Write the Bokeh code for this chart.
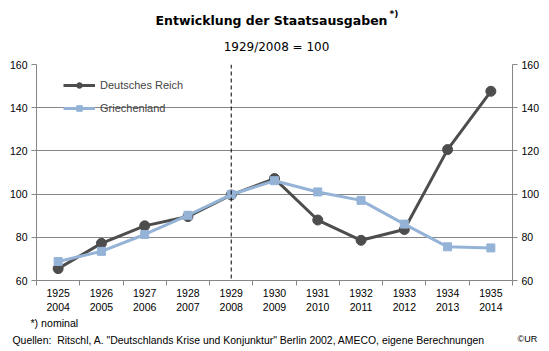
from bokeh.plotting import figure
from bokeh.layouts import column
from bokeh.models import Range1d, LinearAxis, FixedTicker, Span, Label, Legend, LegendItem
from bokeh.embed import file_html
from bokeh.resources import INLINE

years = [1925, 1926, 1927, 1928, 1929, 1930, 1931, 1932, 1933, 1934, 1935]
years_2 = [2004, 2005, 2006, 2007, 2008, 2009, 2010, 2011, 2012, 2013, 2014]
deutsches_reich = [65.5, 77.2, 85.3, 89.6, 99.6, 107.2, 88.0, 78.6, 83.6, 120.6, 147.6]
griechenland = [68.8, 73.5, 81.3, 90.2, 99.8, 106.2, 101.0, 97.1, 86.1, 75.6, 75.1]
y_ticks = [60, 80, 100, 120, 140, 160]
grid_ticks = [80, 100, 120, 140]
base_year = 1929

FONT = "Liberation Sans"
GRAY = "#868686"
DR_COLOR = "#4d4d4d"
GR_COLOR = "#95b3d7"
W = 549
TOP_H = 54
MAIN_TOP = 10
MAIN_BOTTOM = 36
MAIN_H = MAIN_TOP + 216 + MAIN_BOTTOM
FOOT_H = 351 - TOP_H - MAIN_H


def text_fig(h):
    f = figure(width=W, height=h, x_range=Range1d(0, W), y_range=Range1d(h, 0),
               x_axis_type=None, y_axis_type=None, output_backend="svg",
               toolbar_location=None, min_border=0, frame_align=False)
    f.outline_line_color = None
    f.grid.visible = False
    return f


def lab(f, text, x, y, size="11px", font=FONT, bold=False, align="left"):
    f.add_layout(Label(x=x, y=y, text=text, text_font=font, text_font_size=size,
                       text_font_style="bold" if bold else "normal",
                       text_align=align, text_baseline="middle", text_color="black"))


# header
top = text_fig(TOP_H)
lab(top, "Entwicklung der Staatsausgaben", 271, 20, size="12.5px", font="DejaVu Sans", bold=True, align="center")
lab(top, "*)", 389, 13, size="9px", font="DejaVu Sans", bold=True)
lab(top, "1929/2008 = 100", 276, 46, size="12px", font="DejaVu Sans", align="center")

# main chart
p = figure(width=W, height=MAIN_H, frame_width=476, frame_height=216,
           x_range=Range1d(years[0] - 0.5, years[-1] + 0.5),
           y_range=Range1d(y_ticks[0], y_ticks[-1]),
           output_backend="svg", toolbar_location=None, frame_align=False,
           min_border_left=36, min_border_right=37,
           min_border_top=MAIN_TOP, min_border_bottom=MAIN_BOTTOM)
p.outline_line_color = None

xa = p.xaxis[0]
xa.ticker = FixedTicker(ticks=years, minor_ticks=[y - 0.5 for y in years] + [years[-1] + 0.5])
xa.major_label_overrides = {y: f"{y}\n{y2}" for y, y2 in zip(years, years_2)}
xa.major_tick_line_color = None
xa.major_tick_in = 0
xa.major_tick_out = 0
xa.minor_tick_line_color = GRAY
xa.minor_tick_in = 0
xa.minor_tick_out = 5
xa.axis_line_color = GRAY
xa.major_label_text_font = FONT
xa.major_label_text_font_size = "10.5px"
xa.major_label_text_color = "black"
xa.major_label_standoff = 1

ya = p.yaxis[0]
ra = LinearAxis()
p.add_layout(ra, "right")
for ax in (ya, ra):
    ax.ticker = FixedTicker(ticks=y_ticks, minor_ticks=[])
    ax.axis_line_color = GRAY
    ax.major_tick_line_color = GRAY
    ax.major_tick_in = 0
    ax.major_tick_out = 5
    ax.minor_tick_line_color = None
    ax.major_label_text_font = FONT
    ax.major_label_text_font_size = "10.5px"
    ax.major_label_text_color = "black"
    ax.major_label_standoff = 4

p.xgrid.grid_line_color = None
p.ygrid.ticker = FixedTicker(ticks=grid_ticks)
p.ygrid.grid_line_color = GRAY
p.ygrid.grid_line_width = 1

p.add_layout(Span(location=base_year, dimension="height", line_color="black",
                  line_dash="4 3", line_width=1))

l1 = p.line(years, deutsches_reich, line_color=DR_COLOR, line_width=3)
s1 = p.scatter(years, deutsches_reich, marker="circle", size=10, fill_color=DR_COLOR, line_color=DR_COLOR)
l2 = p.line(years, griechenland, line_color=GR_COLOR, line_width=3)
s2 = p.scatter(years, griechenland, marker="square", size=8, fill_color=GR_COLOR, line_color=GR_COLOR)

legend = Legend(items=[LegendItem(label="Deutsches Reich", renderers=[l1, s1]),
                       LegendItem(label="Griechenland", renderers=[l2, s2])],
                location=(27, 162))
legend.border_line_color = None
legend.background_fill_alpha = 0
legend.label_text_font = FONT
legend.label_text_font_size = "11px"
legend.glyph_width = 32
legend.glyph_height = 14
legend.label_height = 20
legend.spacing = 3
legend.margin = 0
legend.padding = 0
legend.label_standoff = 5
p.add_layout(legend)

# footer
foot = text_fig(FOOT_H)
lab(foot, "*) nominal", 30, 6, size="10.6px")
lab(foot, "Quellen:\u00a0\u00a0Ritschl, A. \"Deutschlands Krise und Konjunktur\" Berlin 2002, AMECO, eigene Berechnungen", 12, 24, size="10.45px")
lab(foot, "\u00a9UR", 517, 22, size="9px")

layout = column(top, p, foot, spacing=0)
open("out.html", "w").write(file_html(layout, INLINE))
